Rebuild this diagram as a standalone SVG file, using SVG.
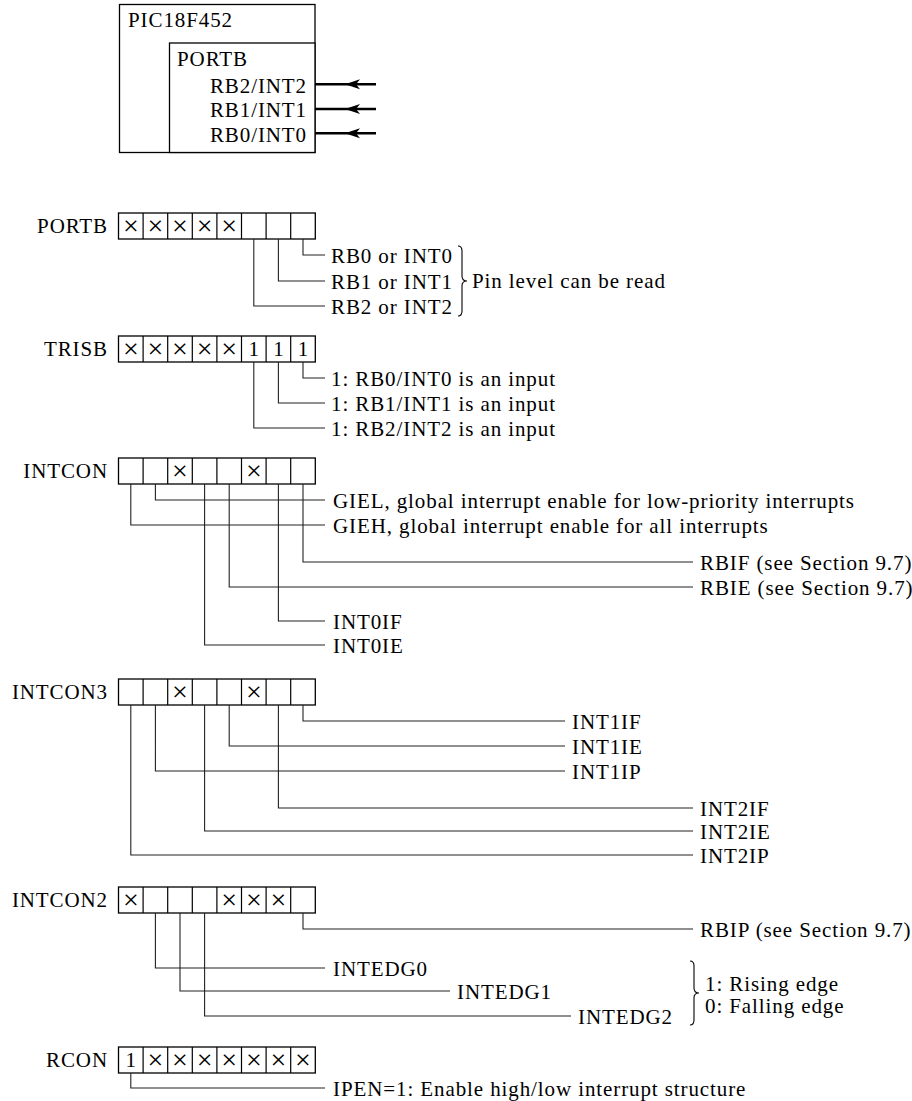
<svg xmlns="http://www.w3.org/2000/svg" width="912" height="1101" viewBox="0 0 912 1101">
<style>
text{font-family:"Liberation Serif","Times New Roman",serif;font-size:21px;letter-spacing:0.9px;fill:#000}
.r{text-anchor:end}
.c{text-anchor:middle;letter-spacing:0}
.x{text-anchor:middle;letter-spacing:0;font-size:28px}
.box{fill:#fff;stroke:#000;stroke-width:1.3}
.grid{stroke:#000;stroke-width:1.2;fill:none}
.lead{stroke:#222;stroke-width:1.1;fill:none}
.pin{stroke:#000;stroke-width:2.5;fill:none}
.brace{stroke:#000;stroke-width:1.1;fill:none}
</style>
<defs>
<marker id="ah" markerUnits="userSpaceOnUse" markerWidth="16" markerHeight="12" refX="15" refY="6" orient="auto" viewBox="0 0 16 12">
<path d="M0,1 L15,6 L0,11 L4,6 Z" fill="#000"/>
</marker>
<g id="cells">
<rect x="118.5" y="0" width="196.8" height="26" class="box"/>
<path class="grid" d="M143.1 0V26M167.7 0V26M192.3 0V26M216.9 0V26M241.5 0V26M266.1 0V26M290.7 0V26"/>
</g>
</defs>

<g id="pic18f452">
<rect x="119.5" y="4.5" width="195.5" height="148" class="box"/>
<text x="128" y="27">PIC18F452</text>
</g>
<g id="portb-block">
<rect x="169.5" y="43" width="145.5" height="109.5" class="box"/>
<text x="177" y="66">PORTB</text>
<text x="307" y="92.5" class="r">RB2/INT2</text>
<text x="307" y="117" class="r">RB1/INT1</text>
<text x="307" y="141.5" class="r">RB0/INT0</text>
</g>

<g id="reg-portb" transform="translate(0,213)">
<text x="108" y="20" class="r">PORTB</text>
<use href="#cells"/>
<text x="130.8" y="22" class="x">×</text><text x="155.4" y="22" class="x">×</text><text x="180" y="22" class="x">×</text><text x="204.6" y="22" class="x">×</text><text x="229.2" y="22" class="x">×</text>
</g>
<g id="reg-trisb" transform="translate(0,336)">
<text x="108" y="20" class="r">TRISB</text>
<use href="#cells"/>
<text x="130.8" y="22" class="x">×</text><text x="155.4" y="22" class="x">×</text><text x="180" y="22" class="x">×</text><text x="204.6" y="22" class="x">×</text><text x="229.2" y="22" class="x">×</text>
<text x="253.8" y="20" class="c">1</text><text x="278.4" y="20" class="c">1</text><text x="303" y="20" class="c">1</text>
</g>
<g id="reg-intcon" transform="translate(0,458)">
<text x="108" y="20" class="r">INTCON</text>
<use href="#cells"/>
<text x="180" y="22" class="x">×</text><text x="253.8" y="22" class="x">×</text>
</g>
<g id="reg-intcon3" transform="translate(0,679)">
<text x="108" y="20" class="r">INTCON3</text>
<use href="#cells"/>
<text x="180" y="22" class="x">×</text><text x="253.8" y="22" class="x">×</text>
</g>
<g id="reg-intcon2" transform="translate(0,887)">
<text x="108" y="20" class="r">INTCON2</text>
<use href="#cells"/>
<text x="130.8" y="22" class="x">×</text><text x="229.2" y="22" class="x">×</text><text x="253.8" y="22" class="x">×</text><text x="278.4" y="22" class="x">×</text>
</g>
<g id="reg-rcon" transform="translate(0,1047)">
<text x="108" y="20" class="r">RCON</text>
<use href="#cells"/>
<text x="130.8" y="20" class="c">1</text>
<text x="155.4" y="22" class="x">×</text><text x="180" y="22" class="x">×</text><text x="204.6" y="22" class="x">×</text><text x="229.2" y="22" class="x">×</text><text x="253.8" y="22" class="x">×</text><text x="278.4" y="22" class="x">×</text><text x="303" y="22" class="x">×</text>
</g>

<g id="connectors">
<path class="pin" d="M376 84.3H345H315" marker-mid="url(#ah)"/>
<path class="pin" d="M376 109H345H315" marker-mid="url(#ah)"/>
<path class="pin" d="M376 133.3H345H315" marker-mid="url(#ah)"/>

<path class="lead" d="M303 239V255H325M278.4 239V281H325M253.8 239V306H325"/>
<path class="lead" d="M303 362V378H325M278.4 362V403H325M253.8 362V428H325"/>
<path class="lead" d="M155.4 484V500H325M130.8 484V525H325M303 484V562H693M229.2 484V587H693M278.4 484V621H325M204.6 484V645H325"/>
<path class="lead" d="M303 705V721H565M229.2 705V746H565M155.4 705V771H565M278.4 705V808H693M204.6 705V831H693M130.8 705V855H693"/>
<path class="lead" d="M303 913V929H693M155.4 913V968H325M180 913V991H450M204.6 913V1016H571"/>
<path class="lead" d="M130.8 1073V1088H325"/>
<path class="brace" d="M458 246Q462 246 462 251V276Q462 281 467 281Q462 281 462 286V311Q462 316 458 316"/>
<path class="brace" d="M690 961Q694 961 694 966V988Q694 993 699 993Q694 993 694 998V1020Q694 1025 690 1025"/>
</g>

<g id="labels">
<text x="331" y="263">RB0 or INT0</text>
<text x="331" y="289">RB1 or INT1</text>
<text x="331" y="314">RB2 or INT2</text>
<text x="472" y="288">Pin level can be read</text>
<text x="331" y="386">1: RB0/INT0 is an input</text>
<text x="331" y="411">1: RB1/INT1 is an input</text>
<text x="331" y="436">1: RB2/INT2 is an input</text>
<text x="333" y="508">GIEL, global interrupt enable for low-priority interrupts</text>
<text x="333" y="533">GIEH, global interrupt enable for all interrupts</text>
<text x="700" y="570">RBIF (see Section 9.7)</text>
<text x="700" y="595">RBIE (see Section 9.7)</text>
<text x="333" y="629">INT0IF</text>
<text x="333" y="653">INT0IE</text>
<text x="572" y="729">INT1IF</text>
<text x="572" y="754">INT1IE</text>
<text x="572" y="779">INT1IP</text>
<text x="700" y="816">INT2IF</text>
<text x="700" y="839">INT2IE</text>
<text x="700" y="863">INT2IP</text>
<text x="700" y="937">RBIP (see Section 9.7)</text>
<text x="333" y="976">INTEDG0</text>
<text x="457" y="999">INTEDG1</text>
<text x="578" y="1024">INTEDG2</text>
<text x="705" y="991">1: Rising edge</text>
<text x="705" y="1013">0: Falling edge</text>
<text x="333" y="1096">IPEN=1: Enable high/low interrupt structure</text>
</g>
</svg>
